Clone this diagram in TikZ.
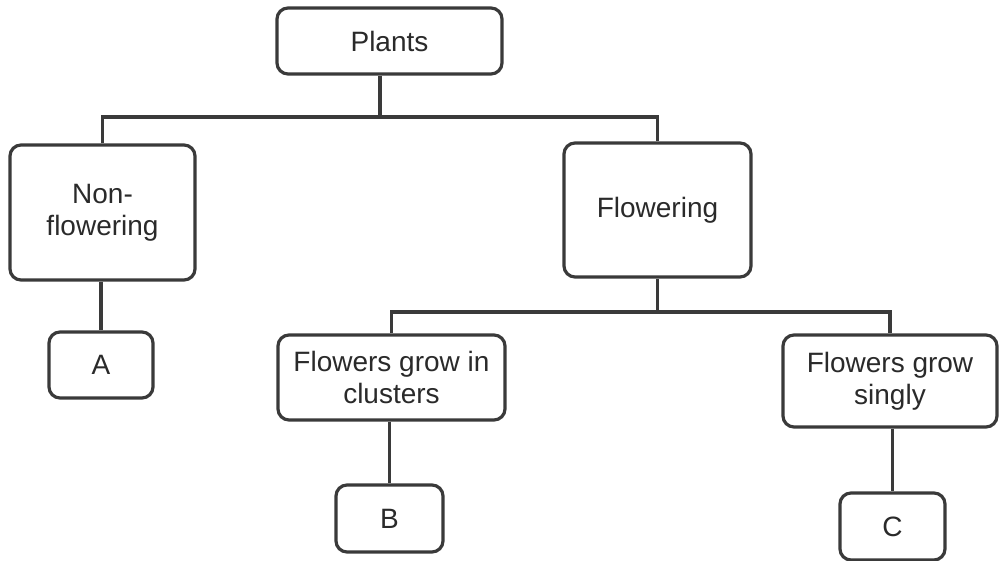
\documentclass[tikz,border=0pt]{standalone}
\usepackage{fontspec}
\setmainfont{Liberation Sans}
\definecolor{ink}{HTML}{3A3A3A}
\definecolor{txt}{HTML}{2A2A2A}
\tikzset{
  box/.style={draw=ink, line width=3.2pt, rounded corners=11pt, fill=white,
    align=center, inner sep=0pt, text=txt,
    font=\fontsize{28}{32}\selectfont},
  conn/.style={draw=ink, line width=3.2pt}
}
\begin{document}
\begin{tikzpicture}[x=1pt,y=-1pt]
\useasboundingbox (0,0) rectangle (999,561);
\node[box, minimum width=225pt, minimum height=66pt] (plants) at (389.5,41) {Plants};
\node[box, minimum width=185pt, minimum height=135pt] (nonf) at (102.5,212.5) {Non-\\flowering};
\node[box, minimum width=187pt, minimum height=134pt] (flow) at (657.5,210) {Flowering};
\node[box, minimum width=104pt, minimum height=66pt] (A) at (101,365) {A};
\node[box, minimum width=227pt, minimum height=85pt] (clus) at (391.5,377.5) {Flowers grow in\\clusters};
\node[box, minimum width=214pt, minimum height=92pt] (sing) at (890,381) {Flowers grow\\singly};
\node[box, minimum width=107pt, minimum height=67pt] (B) at (389.5,518.5) {B};
\node[box, minimum width=105pt, minimum height=67pt] (C) at (892.5,526.5) {C};
\coordinate (j1) at (380,117);
\coordinate (j2) at (657.5,312);
\draw[conn] (j1 |- plants.south) -- (j1);
\draw[conn] (nonf.north) |- (j1) -| (flow.north);
\draw[conn] (flow.south) -- (j2);
\draw[conn] (clus.north) |- (j2) -| (sing.north);
\draw[conn] (nonf.south -| A.north) -- (A.north);
\draw[conn] (clus.south -| B.north) -- (B.north);
\draw[conn] (sing.south -| C.north) -- (C.north);
\end{tikzpicture}
\end{document}
